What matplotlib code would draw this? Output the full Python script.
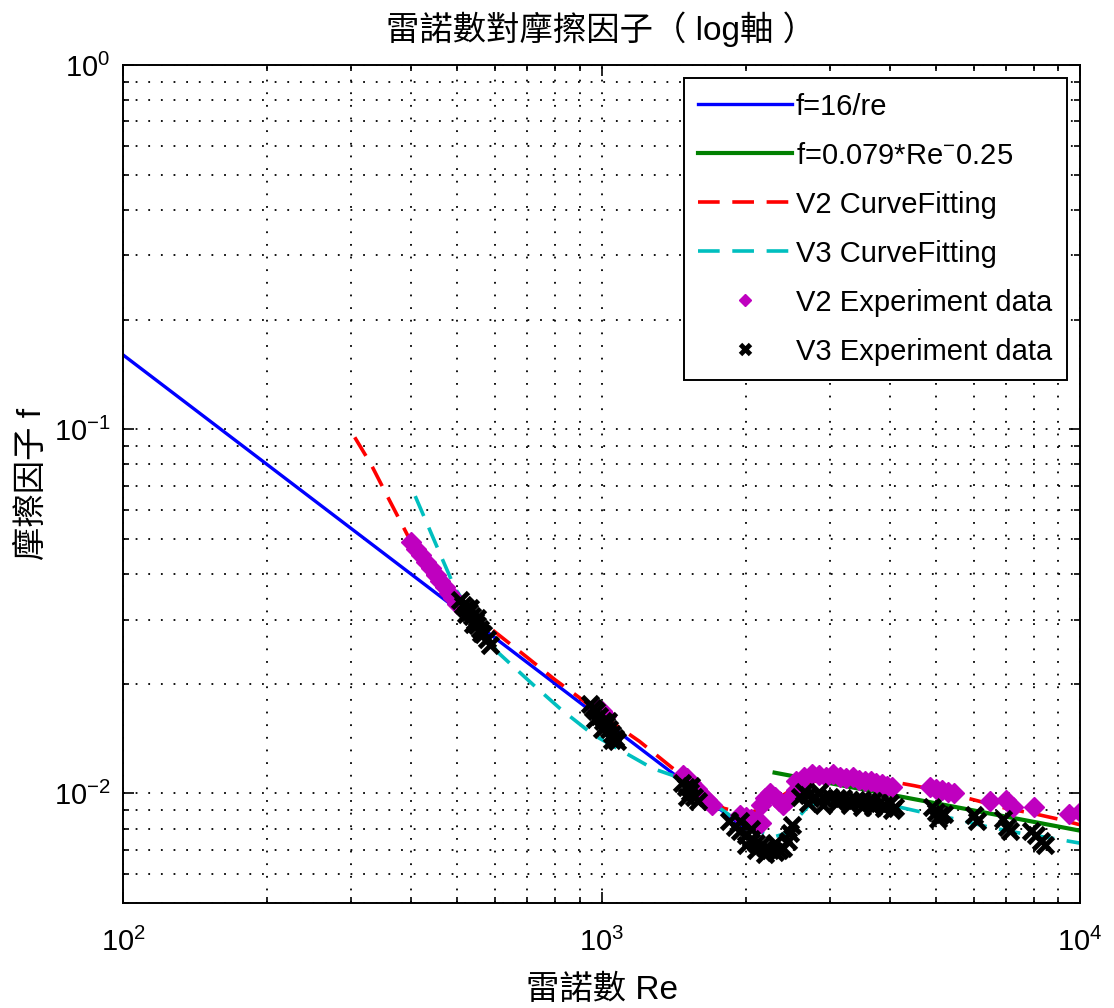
import numpy as np
import matplotlib
matplotlib.use('Agg')
import matplotlib.pyplot as plt
from matplotlib.ticker import NullFormatter

plt.rcParams['font.family'] = ['Liberation Sans', 'Noto Sans CJK TC']
plt.rcParams['mathtext.fontset'] = 'custom'
plt.rcParams['mathtext.rm'] = 'Liberation Sans'
plt.rcParams['mathtext.it'] = 'Liberation Sans:italic'
plt.rcParams['axes.unicode_minus'] = False

# f = 16/Re (laminar) and f = 0.079*Re^-0.25 (Blasius), end points
re_lam = [100, 2000]
f_lam = [0.16, 0.008]
re_turb = [2300, 10000]
f_turb = [0.0114, 0.0079]

# V2 curve fitting (red dashed)
re_v2fit = [305, 330, 360, 400, 450, 500, 600, 700, 800, 900, 1000, 1200, 1400, 1600,
            1800, 2000, 2200, 2400, 2600, 3000, 3500, 4000, 4500, 5000, 6000, 7000,
            8000, 9000, 10000]
f_v2fit = [0.095, 0.080, 0.064, 0.049, 0.0405, 0.0335, 0.0277, 0.0236, 0.0205, 0.0183,
           0.0164, 0.0139, 0.0118, 0.0103, 0.0091, 0.0088, 0.0091, 0.0099, 0.0106,
           0.0110, 0.0109, 0.0108, 0.0105, 0.0102, 0.0096, 0.0091, 0.0088, 0.0085, 0.0082]

# V3 curve fitting (cyan dashed)
re_v3fit = [408, 430, 460, 494, 530, 605, 719, 819, 960, 1100, 1280, 1410, 1550, 1770,
            1900, 2100, 2300, 2450, 2600, 2700, 3000, 3500, 4000, 4460, 5000, 5500,
            6400, 7400, 8900, 10000]
f_v3fit = [0.0655, 0.0558, 0.0454, 0.0366, 0.0318, 0.0245, 0.0199, 0.0171, 0.0145,
           0.0131, 0.0117, 0.0112, 0.0102, 0.0091, 0.0085, 0.0079, 0.0076, 0.0078,
           0.0087, 0.0092, 0.0096, 0.0095, 0.0093, 0.0090, 0.0087, 0.0085, 0.0081,
           0.0078, 0.0075, 0.0073]

# V2 experiment data (magenta diamonds)
re_v2 = [400, 410, 420, 430, 440, 450, 460, 470, 480, 490, 500, 510,
         975, 1000, 1020,
         1480, 1510, 1540, 1580, 1620, 1660, 1700,
         1950, 2000, 2050, 2100, 2150,
         2150, 2200, 2250, 2300, 2350, 2400, 2450,
         2550, 2650, 2750, 2850, 2950, 3050, 3150, 3250, 3350, 3450, 3550, 3650, 3750,
         3850, 3950, 4050, 2550, 2600,
         4850, 5000, 5150, 5300, 5450,
         6500, 7000, 7250, 8000, 9500, 10000]
f_v2 = [0.0490, 0.0470, 0.0450, 0.0432, 0.0415, 0.0398, 0.0383, 0.0368, 0.0355, 0.0343,
        0.0332, 0.0322,
        0.0172, 0.0168, 0.0163,
        0.0112, 0.0110, 0.0107, 0.0103, 0.0099, 0.0096, 0.0093,
        0.0087, 0.0086, 0.0085, 0.0084, 0.0083,
        0.0093, 0.0097, 0.0100, 0.0098, 0.0095, 0.0093, 0.0096,
        0.0108, 0.0111, 0.0113, 0.0112, 0.0111, 0.0113, 0.0111, 0.0110, 0.0111, 0.0109,
        0.0108, 0.0108, 0.0107, 0.0106, 0.0105, 0.0104, 0.0102, 0.0105,
        0.0104, 0.0103, 0.0102, 0.0101, 0.0100,
        0.0095, 0.0096, 0.0092, 0.0092, 0.0088, 0.0089]

# V3 experiment data (black x)
re_v3 = [505, 513, 520, 528, 535, 543, 550, 558, 566, 575, 584, 520, 540, 560, 530, 548,
         945, 960, 975, 990, 1005, 1020, 1035, 1050, 1065, 1080, 1000, 1030, 970, 1050,
         1470, 1500, 1530, 1560, 1590, 1510, 1540,
         1850, 1900, 1950, 2000, 2050, 2100, 2150, 2200, 2250, 2300, 2350, 2400, 2450,
         2480, 2500, 2000, 2100, 2200, 2300, 1950, 2050,
         2600, 2700, 2800, 2900, 3000, 3100, 3200, 3300, 3400, 3500, 3600, 3700, 3800,
         3900, 4000, 4100, 2700, 2900, 3100, 3300, 3500, 3700, 3900, 4050, 2650, 2850,
         4900, 5000, 5100, 5200, 5050,
         6000, 6100,
         6900, 7050, 7150,
         7900, 8100, 8300, 8450]
f_v3 = [0.0340, 0.0330, 0.0322, 0.0314, 0.0306, 0.0298, 0.0290, 0.0282, 0.0274, 0.0265,
        0.0256, 0.0310, 0.0292, 0.0276, 0.0322, 0.0303,
        0.0176, 0.0172, 0.0168, 0.0163, 0.0158, 0.0154, 0.0150, 0.0146, 0.0142, 0.0139,
        0.0150, 0.0158, 0.0160, 0.0140,
        0.0107, 0.0104, 0.0101, 0.0098, 0.0095, 0.0098, 0.0105,
        0.0084, 0.0081, 0.0079, 0.0077, 0.0075, 0.0073, 0.0072, 0.0071, 0.0070, 0.0069,
        0.0070, 0.0071, 0.0074, 0.0078, 0.0082, 0.0072, 0.0070, 0.0068, 0.0073, 0.0084,
        0.0080,
        0.0098, 0.0099, 0.0098, 0.0097, 0.0098, 0.0097, 0.0097, 0.0096, 0.0096, 0.0096,
        0.0095, 0.0095, 0.0094, 0.0093, 0.0094, 0.0092, 0.0094, 0.0093, 0.0094, 0.0093,
        0.0092, 0.0092, 0.0091, 0.0090, 0.0101, 0.0101,
        0.0092, 0.0089, 0.0087, 0.0088, 0.0085,
        0.0087, 0.0084,
        0.0085, 0.0081, 0.0079,
        0.0079, 0.0077, 0.0074, 0.0072]

fig = plt.figure(figsize=(11.14, 10.08), dpi=100)
ax = fig.add_axes([123/1114, 105/1008, 957/1114, 838/1008])

ax.plot(re_lam, f_lam, color='#0000FF', lw=2.4, label='f=16/re')
ax.plot(re_turb, f_turb, color='#008000', lw=3, label='f=0.079*Re$^{-}$0.25')
ax.plot(re_v2fit, f_v2fit, color='#FF0000', lw=2.6, linestyle=(0, (6, 3.5)), label='V2 CurveFitting')
ax.plot(re_v3fit, f_v3fit, color='#00BFBF', lw=2.6, linestyle=(0, (6, 3.5)), label='V3 CurveFitting')
ax.plot(re_v2, f_v2, linestyle='none', marker='D', ms=10, color='#BF00BF', mec='#BF00BF',
        label='V2 Experiment data')
ax.plot(re_v3, f_v3, linestyle='none', marker='x', ms=11, mew=3.5, color='k',
        label='V3 Experiment data')

ax.set_xscale('log')
ax.set_yscale('log')
ax.set_xlim(100, 10000)
ax.set_ylim(0.005, 1)
ax.xaxis.set_minor_formatter(NullFormatter())
ax.yaxis.set_minor_formatter(NullFormatter())

ax.grid(True, which='both', color='k', linestyle=(0, (1, 6)), linewidth=1.3)
ax.tick_params(which='both', direction='in', top=True, right=True, width=1.2)
ax.tick_params(which='major', length=8, labelsize=21, pad=9)
ax.tick_params(axis='x', which='major', pad=18)
ax.tick_params(which='minor', length=4.5)
for s in ax.spines.values():
    s.set_linewidth(1.4)

ax.set_title('雷諾數對摩擦因子（ log軸 ）', fontsize=24, pad=18)
ax.set_xlabel('雷諾數 Re', fontsize=24, labelpad=13)
ax.set_ylabel('摩擦因子 f', fontsize=24, labelpad=4)

leg = ax.legend(loc='upper right', fontsize=21, handlelength=3.2, handletextpad=0.15,
                labelspacing=0.72, borderpad=0.5, borderaxespad=0.45, fancybox=False,
                edgecolor='k', framealpha=1, markerscale=0.6)
leg.get_frame().set_linewidth(1.4)

fig.savefig('out.png', dpi=100)
